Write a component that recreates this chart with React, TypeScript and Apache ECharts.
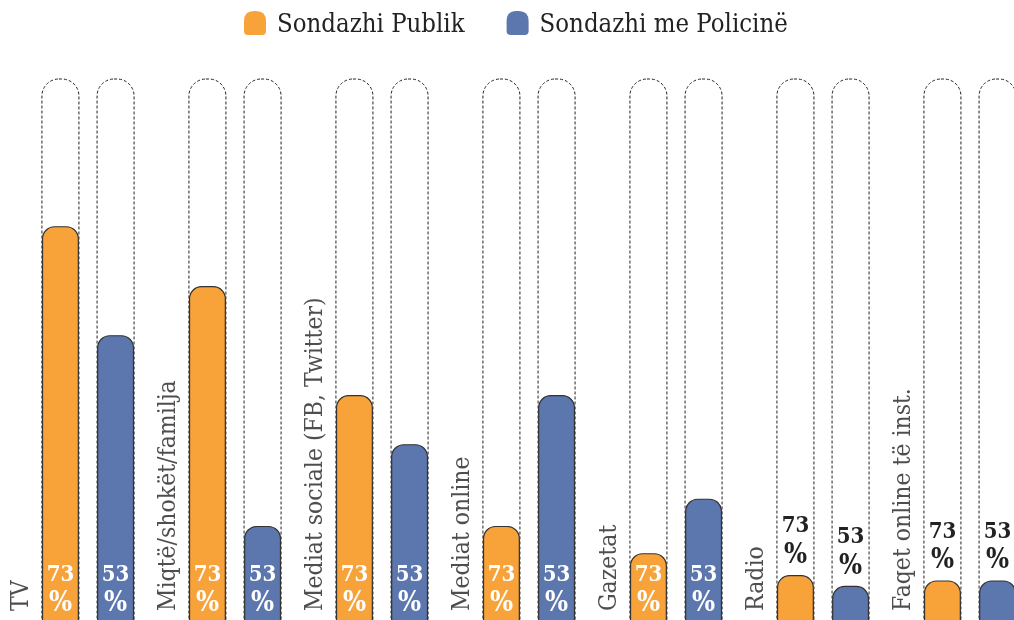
import React, { useEffect, useRef } from "react";
import * as echarts from "echarts";

const categories = [
  "TV",
  "Miqtë/shokët/familja",
  "Mediat sociale (FB, Twitter)",
  "Mediat online",
  "Gazetat",
  "Radio",
  "Faqet online të inst.",
];
const seriesNames = ["Sondazhi Publik", "Sondazhi me Policinë"];
const publikValues = [73, 62, 42, 18, 13, 9, 8];
const policeValues = [53, 18, 33, 42, 23, 7, 8];
const publikLabels = ["73", "73", "73", "73", "73", "73", "73"];
const policeLabels = ["53", "53", "53", "53", "53", "53", "53"];

const ORANGE = "#F8A23A";
const BLUE = "#5C76AE";
const INK = "#222222";
const FONT = "DejaVu Serif Condensed, DejaVu Serif, serif";

function barData(values: number[], labels: string[]) {
  return values.map((v, i) => {
    const outside = v < 12;
    const col = outside ? INK : "#ffffff";
    return {
      value: v,
      label: {
        position: outside ? "top" : "insideBottom",
        distance: outside ? 7 : 8,
        formatter: "{n|" + labels[i] + "}\n{p|%}",
        rich: {
          n: {
            fontFamily: FONT,
            fontWeight: "bold",
            fontSize: 22,
            lineHeight: 29,
            color: col,
            align: "center",
          },
          p: {
            fontFamily: FONT,
            fontWeight: "bold",
            fontSize: 27,
            lineHeight: 29,
            color: col,
            align: "center",
          },
        },
      },
    };
  });
}

function barSeries(name: string, color: string, values: number[], labels: string[]) {
  return {
    name,
    type: "bar",
    xAxisIndex: 0,
    yAxisIndex: 0,
    barWidth: 37,
    barGap: "49%",
    data: barData(values, labels),
    itemStyle: {
      color,
      borderColor: "#333333",
      borderWidth: 1.2,
      borderRadius: [12, 12, 0, 0],
    },
    showBackground: true,
    backgroundStyle: {
      color: "rgba(0,0,0,0)",
      borderColor: "#222222",
      borderWidth: 1,
      borderType: [3, 2],
      borderRadius: [17, 17, 0, 0],
    },
    label: {
      show: true,
      align: "center",
    },
  };
}

export default function App() {
  const ref = useRef<HTMLDivElement>(null);
  useEffect(() => {
    if (!ref.current) return;
    const chart = echarts.init(ref.current, null, { renderer: "svg" });
    const iconPath =
      "path://M0,10 Q0,0 10,0 L12,0 Q22,0 22,10 L22,20 Q22,24 18,24 L4,24 Q0,24 0,20 Z";
    chart.setOption({
      animation: false,
      legend: {
        top: 5,
        left: 239,
        itemWidth: 22,
        itemHeight: 24,
        itemGap: 42,
        data: [
          { name: seriesNames[0], icon: iconPath, itemStyle: { color: ORANGE, borderWidth: 0 } },
          { name: seriesNames[1], icon: iconPath, itemStyle: { color: BLUE, borderWidth: 0 } },
        ],
        textStyle: {
          fontFamily: FONT,
          fontSize: 25.5,
          color: INK,
          padding: [0, 0, 0, 6],
        },
      },
      grid: {
        left: 14.5,
        width: 1029,
        top: 79,
        bottom: -4,
        containLabel: false,
        outerBoundsMode: "none",
      },
      xAxis: [
        {
          type: "category",
          data: categories,
          show: false,
        },
      ],
      yAxis: [{ type: "value", min: 0, max: 100, show: false }],
      series: [
        barSeries(seriesNames[0], ORANGE, publikValues, publikLabels),
        barSeries(seriesNames[1], BLUE, policeValues, policeLabels),
        {
          type: "scatter",
          symbolSize: 0,
          silent: true,
          data: categories.map((c) => [c, 0]),
          label: {
            show: true,
            position: "inside",
            rotate: 90,
            align: "left",
            verticalAlign: "middle",
            offset: [13, -69],
            formatter: (p: any) => categories[p.dataIndex],
            fontFamily: FONT,
            fontSize: 24.5,
            color: INK,
          },
        },
      ],
    });
    return () => chart.dispose();
  }, []);
  return (
    <div
      ref={ref}
      style={{ position: "fixed", left: 0, top: 0, width: 1014, height: 620 }}
    />
  );
}
